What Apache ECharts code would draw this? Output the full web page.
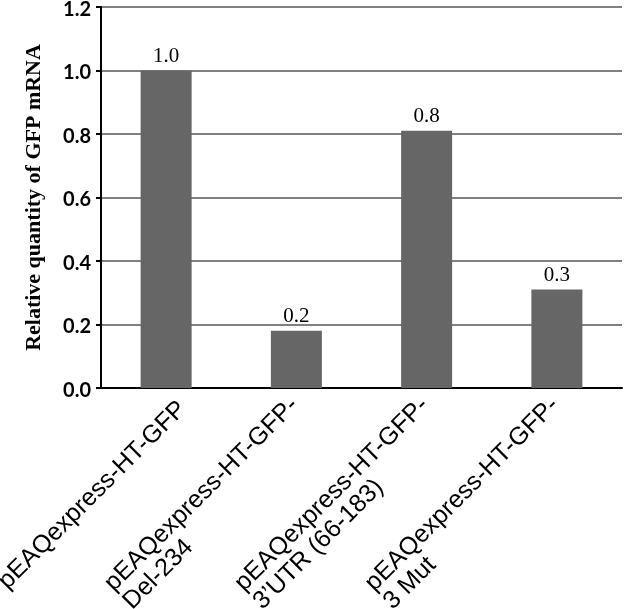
<!DOCTYPE html>
<html><head><meta charset="utf-8">
<script src="https://cdn.jsdelivr.net/npm/echarts@6/dist/echarts.min.js"></script>
<style>html,body{margin:0;padding:0;background:#fff}#c{width:625px;height:609px}</style>
</head><body><div id="c"></div>
<script>
var categories = ['pEAQexpress-HT-GFP', 'pEAQexpress-HT-GFP-\nDel-234', 'pEAQexpress-HT-GFP-\n3\u2019UTR (66-183)', 'pEAQexpress-HT-GFP-\n3 Mut'];
var values = [1.0, 0.18, 0.81, 0.31];
var valueLabels = ['1.0', '0.2', '0.8', '0.3'];
var yTicks = [0, 0.2, 0.4, 0.6, 0.8, 1.0, 1.2];
var yTitle = 'Relative quantity of GFP mRNA';

var labelFont = {fontFamily: 'Liberation Sans', fontSize: 25, color: '#000', lineHeight: 26, align: 'left'};
function richStyle(extra) { return Object.assign({}, labelFont, extra); }

var chart = echarts.init(document.getElementById('c'), null, {renderer: 'canvas'});
chart.setOption({
  animation: false,
  backgroundColor: '#fff',
  grid: {left: 101, right: 3, top: 7, bottom: 221, containLabel: false, outerBoundsMode: 'none'},
  xAxis: {
    type: 'category',
    data: categories,
    axisLine: {lineStyle: {color: '#000', width: 2}},
    axisTick: {show: false},
    axisLabel: {
      rotate: 45, interval: 0, margin: 1,
      padding: [46, 0, 0, 0],
      fontFamily: 'Liberation Sans', fontSize: 25, color: '#000',
      formatter: function (v) {
        var lines = v.split('\n');
        if (lines.length === 1) return '{a|' + lines[0] + '}';
        return '{b|' + lines[0] + '}\n{a|' + lines[1] + '}\n{e| }';
      },
      rich: {
        a: richStyle({}),
        b: richStyle({padding: [0, 10, 0, 0]}),
        e: richStyle({lineHeight: 5, fontSize: 5})
      }
    }
  },
  yAxis: {
    type: 'value', min: 0, max: 1.2, interval: 0.2,
    name: yTitle, nameLocation: 'middle', nameGap: 56, nameRotate: 90,
    nameTextStyle: {fontFamily: 'Liberation Serif', fontWeight: 'bold', fontSize: 22, color: '#000'},
    axisLine: {show: true, lineStyle: {color: '#000', width: 2}},
    axisTick: {show: true, length: 5, lineStyle: {color: '#000', width: 2}},
    axisLabel: {color: '#000', margin: 10,
      formatter: function (v) { return '{v|' + v.toFixed(1) + '}'; },
      rich: {v: {fontFamily: 'Lato', fontWeight: 'bold', fontSize: 20, lineHeight: 20, color: '#000', padding: [5, 0, 0, 0]}}},
    splitLine: {show: true, lineStyle: {color: '#808080', width: 2}}
  },
  series: [{
    type: 'bar', data: values, barWidth: 51,
    itemStyle: {color: '#666666'},
    label: {show: true, position: 'top', distance: 4,
      fontFamily: 'Liberation Serif', fontSize: 21, color: '#000',
      formatter: function (p) { return valueLabels[p.dataIndex]; }}
  }]
});
</script></body></html>
